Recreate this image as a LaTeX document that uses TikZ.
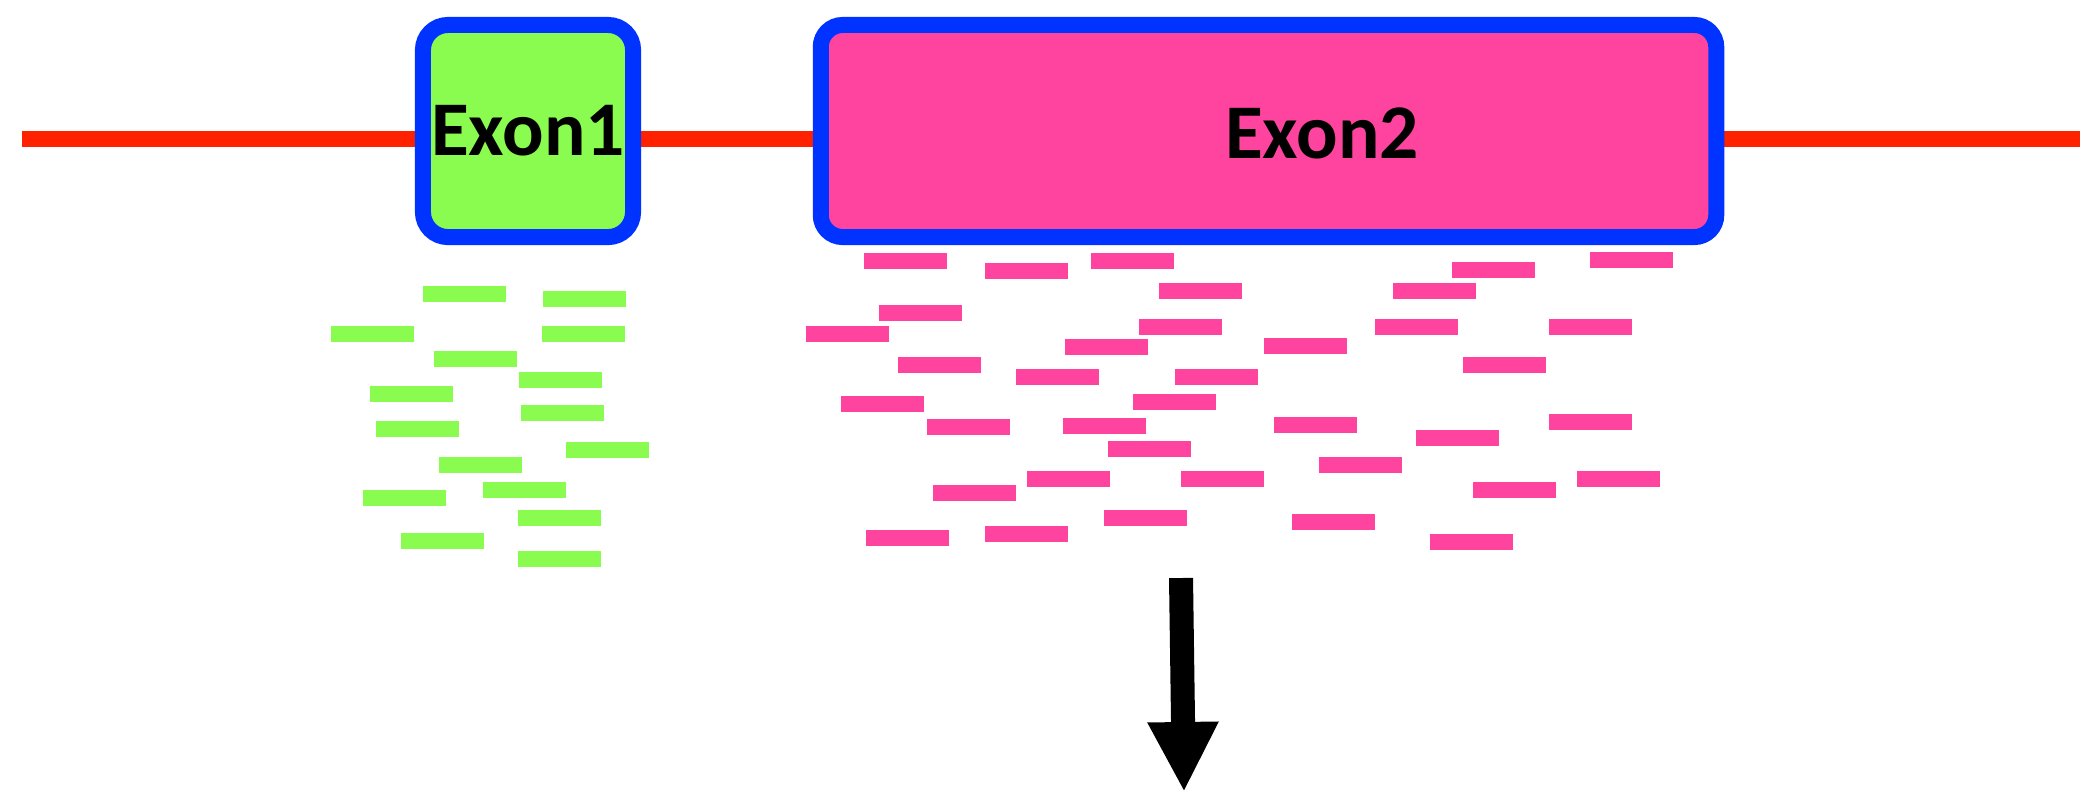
\documentclass[tikz,border=0pt]{standalone}
\usepackage{fontspec}
\setmainfont{Carlito}
\usepackage{tikz}
\usetikzlibrary{positioning,arrows.meta,backgrounds}
\definecolor{exongreen}{RGB}{138,252,80}
\definecolor{exonpink}{RGB}{255,68,160}
\definecolor{exonblue}{RGB}{0,51,255}
\definecolor{intronred}{RGB}{255,34,0}
\tikzset{
exonbox/.style={
draw=exonblue,
line width=0.16cm,
rounded corners=0.25cm,
inner sep=0pt,
minimum height=2.12cm,
font=\fontsize{22}{26}\selectfont\bfseries
},
read/.style={
minimum width=0.83cm,
minimum height=0.16cm,
inner sep=0pt,
anchor=north west
},
intron/.style={
draw=intronred,
line width=0.156cm
},
arrow/.style={
-{Triangle[width=0.66cm,length=0.70cm]},
line width=0.24cm
}
}
\begin{document}
\begin{tikzpicture}[x=0.01cm,y=-0.01cm]
\useasboundingbox (0,0) rectangle (2080,793);

% exons
\node[exonbox,fill=exongreen,minimum width=2.10cm](exon1) at (528,131){Exon1};
\node[exonbox,fill=exonpink,minimum width=8.95cm,rounded corners=0.22cm](exon2) at (1268.5,131){};
\node[font=\fontsize{22}{26}\selectfont\bfseries,inner sep=0pt](exon2lab) at (1322,133){Exon2};

% introns
\coordinate (lstart) at (22,139);
\coordinate (rend) at (2080,139);
\begin{scope}[on background layer]
\draw[intron](lstart)--(lstart -| exon1.west);
\draw[intron](lstart -| exon1.east)--(lstart -| exon2.west);
\draw[intron](lstart -| exon2.east)--(rend);
\end{scope}

% reads
\foreach \x/\y [count=\i] in {422/285,542/290,330/325,541/325,433/350,518/371,369/385,520/404,
375/420,565/441,438/456,482/481,362/489,517/509,400/532,517/550}
\node[read,fill=exongreen](g\i) at (\x,\y){};

\foreach \x/\y [count=\i] in {863/252,984/262,1090/252,1158/282,878/304,805/325,1138/318,1064/338,
1263/337,897/356,1015/368,1174/368,840/395,1132/393,926/418,1062/417,1273/416,1107/440,
1026/470,1180/470,932/484,1103/509,1291/513,865/529,984/525,1451/261,1589/251,1392/282,
1374/318,1548/318,1462/356,1415/429,1548/413,1318/456,1472/481,1576/470,1429/533}
\node[read,fill=exonpink](p\i) at (\x,\y){};

% arrow
\coordinate (arrtop) at (1181,578);
\coordinate (arrtip) at (1184,792);
\draw[arrow](arrtop)--(arrtip);
\end{tikzpicture}
\end{document}
